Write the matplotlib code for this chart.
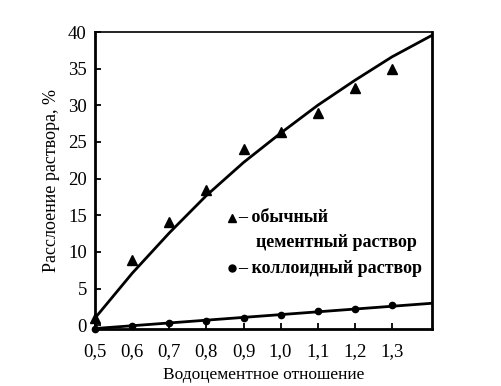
import matplotlib
matplotlib.use("Agg")
import matplotlib.pyplot as plt
from matplotlib.ticker import FixedLocator

plt.rcParams['font.family'] = ['Liberation Serif', 'DejaVu Serif']

# data
wc = [0.5, 0.6, 0.7, 0.8, 0.9, 1.0, 1.1, 1.2, 1.3]
ordinary = [1.0, 8.9, 14.1, 18.5, 24.0, 26.3, 29.0, 32.4, 35.0]
colloid = [-0.45, -0.1, 0.27, 0.6, 1.0, 1.45, 1.9, 2.2, 2.7]

curve_x = [0.5, 0.6, 0.7, 0.8, 0.9, 1.0, 1.1, 1.2, 1.3, 1.41]
curve_ordinary = [1.0, 7.1, 12.6, 17.7, 22.2, 26.2, 30.0, 33.4, 36.6, 39.6]
line_x = [0.5, 1.41]
line_colloid = [-0.45, 3.0]

xticks = [0.5, 0.6, 0.7, 0.8, 0.9, 1.0, 1.1, 1.2, 1.3]
xticklabels = ["0,5", "0,6", "0,7", "0,8", "0,9", "1,0", "1,1", "1,2", "1,3"]
yticks = [0, 5, 10, 15, 20, 25, 30, 35, 40]

fig = plt.figure(figsize=(5.01, 3.86), dpi=100)
ax = fig.add_axes([0.19, 0.148, 0.672, 0.769])

ax.plot(curve_x, curve_ordinary, color='black', lw=2.0, solid_capstyle='butt')
ax.plot(line_x, line_colloid, color='black', lw=2.0, solid_capstyle='butt')
ax.plot(wc, ordinary, linestyle='none', marker='^', color='black', markersize=7, clip_on=False)
ax.plot(wc, colloid, linestyle='none', marker='o', color='black', markersize=4.5, clip_on=False)

ax.set_xlim(0.5, 1.408)
ax.set_ylim(-0.5, 40)
ax.xaxis.set_major_locator(FixedLocator(xticks))
ax.set_xticklabels(xticklabels)
ax.yaxis.set_major_locator(FixedLocator(yticks))
ax.tick_params(direction='in', length=4, width=1.3, labelsize=13.5, pad=6, colors='black')
ax.tick_params(axis='x', pad=10)

for side in ['left', 'bottom', 'right']:
    ax.spines[side].set_linewidth(2.0)
ax.spines['top'].set_linewidth(1.2)

ax.set_xlabel("Водоцементное отношение", fontsize=12.5, labelpad=5)
ax.set_ylabel("Расслоение раствора, %", fontsize=13, labelpad=6)

# legend drawn manually
ax.plot([0.405], [0.375], transform=ax.transAxes, marker='^', color='black',
        markersize=6, linestyle='none')
ax.text(0.425, 0.375, "– обычный", transform=ax.transAxes, fontsize=13,
        va='center', ha='left', fontweight='bold')
ax.text(0.478, 0.29, "цементный раствор", transform=ax.transAxes, fontsize=13,
        va='center', ha='left', fontweight='bold')
ax.plot([0.405], [0.205], transform=ax.transAxes, marker='o', color='black',
        markersize=5, linestyle='none')
ax.text(0.425, 0.205, "– коллоидный раствор", transform=ax.transAxes, fontsize=13,
        va='center', ha='left', fontweight='bold')

fig.savefig("out.png", dpi=100)
